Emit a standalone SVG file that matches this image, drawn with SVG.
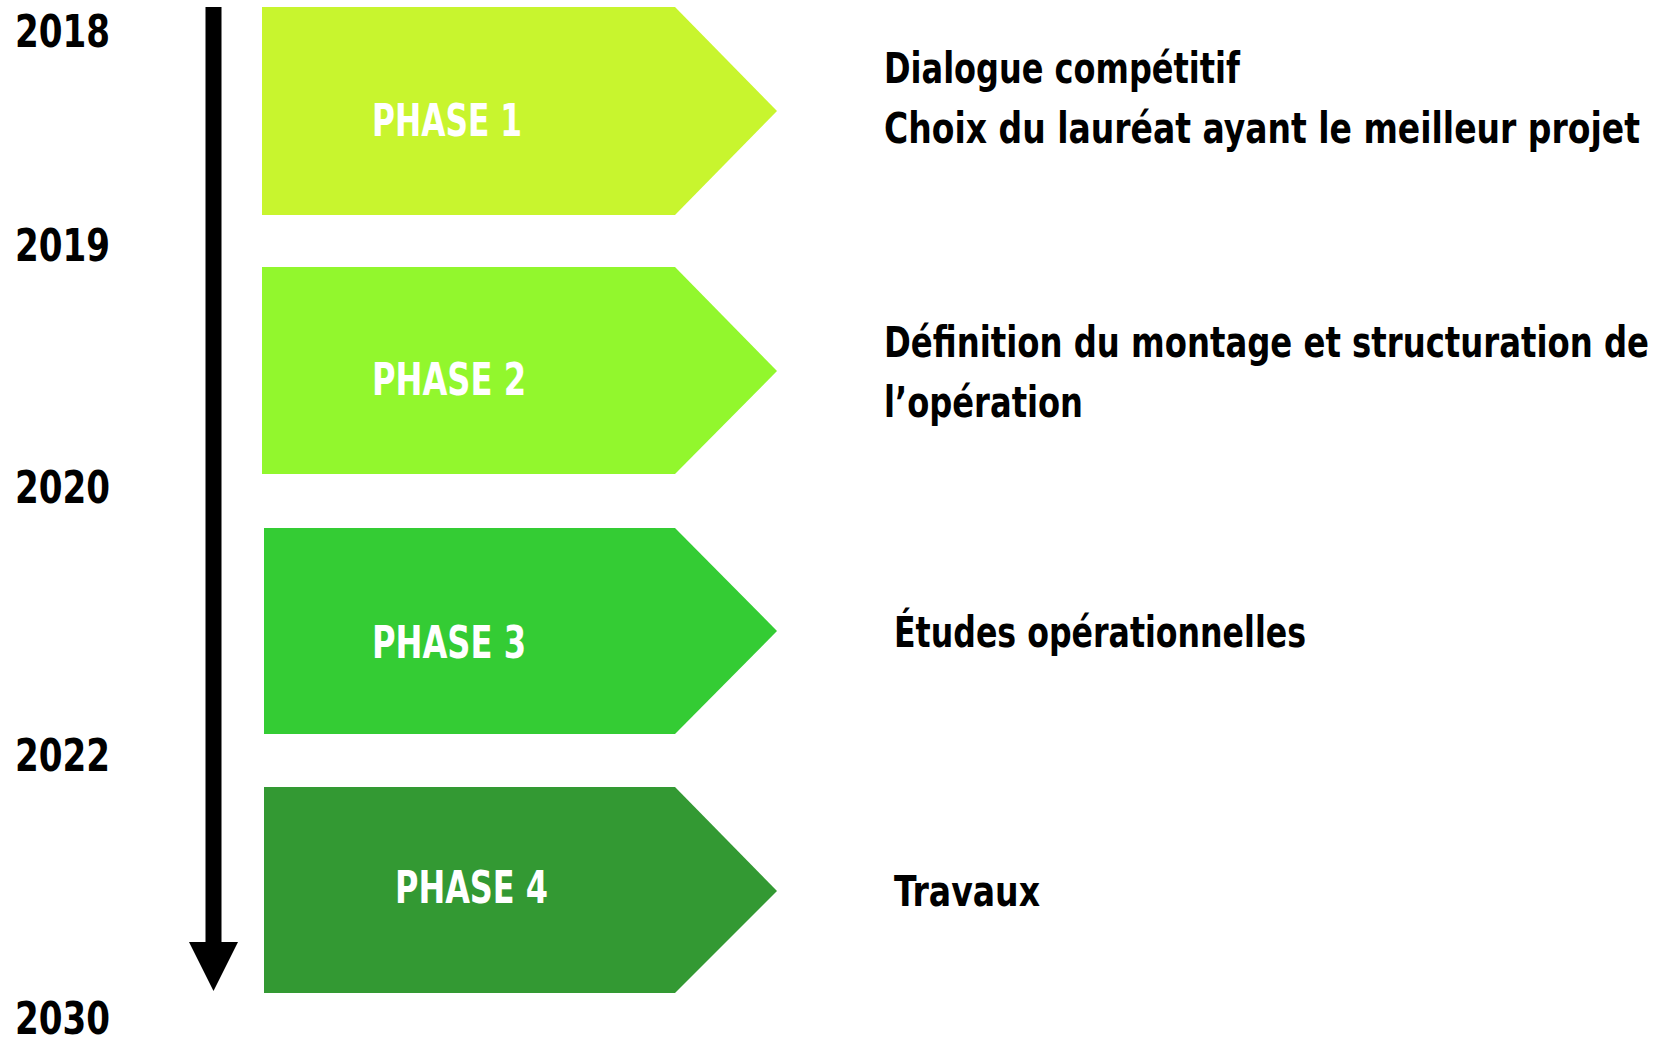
<svg xmlns="http://www.w3.org/2000/svg" width="1666" height="1045" viewBox="0 0 1666 1045">
<style>
  text { font-family: "Liberation Sans Narrow", "DejaVu Sans Condensed", "Liberation Sans", sans-serif; font-weight: bold; }
  .year { font-size: 44px; fill: #000; }
  .phase { font-size: 45px; fill: #fff; }
  .desc { font-size: 43px; fill: #000; }
  .axis { stroke: #000; stroke-width: 16; fill: none; }
</style>
<defs>
  <marker id="ah" markerUnits="userSpaceOnUse" markerWidth="50" markerHeight="50" viewBox="0 -25 50 50" refX="0" refY="0" orient="auto">
    <path d="M0,-24.5 L49,0 L0,24.5 Z" fill="#000"/>
  </marker>
</defs>
<rect width="1666" height="1045" fill="#fff"/>
<g id="years">
  <text class="year" x="15" y="47" textLength="95" lengthAdjust="spacingAndGlyphs">2018</text>
  <text class="year" x="15" y="261" textLength="95" lengthAdjust="spacingAndGlyphs">2019</text>
  <text class="year" x="15" y="503" textLength="95" lengthAdjust="spacingAndGlyphs">2020</text>
  <text class="year" x="15" y="771" textLength="95" lengthAdjust="spacingAndGlyphs">2022</text>
  <text class="year" x="15" y="1034" textLength="95" lengthAdjust="spacingAndGlyphs">2030</text>
</g>
<g id="connectors">
  <path class="axis" d="M213.5,7 L213.5,942" marker-end="url(#ah)"/>
</g>
<g id="phase1">
  <polygon points="262,7 675,7 777,111 675,215 262,215" fill="#C8F52E"/>
  <text class="phase" x="372" y="136" textLength="150" lengthAdjust="spacingAndGlyphs">PHASE 1</text>
</g>
<g id="phase2">
  <polygon points="262,267 675,267 777,371 675,474 262,474" fill="#92F72D"/>
  <text class="phase" x="372" y="395" textLength="154" lengthAdjust="spacingAndGlyphs">PHASE 2</text>
</g>
<g id="phase3">
  <polygon points="264,528 675,528 777,631 675,734 264,734" fill="#34CC34"/>
  <text class="phase" x="372" y="658" textLength="154" lengthAdjust="spacingAndGlyphs">PHASE 3</text>
</g>
<g id="phase4">
  <polygon points="264,787 675,787 777,891 675,993 264,993" fill="#339933"/>
  <text class="phase" x="395" y="903" textLength="153" lengthAdjust="spacingAndGlyphs">PHASE 4</text>
</g>
<g id="desc1">
  <text class="desc" x="884" y="83" textLength="356" lengthAdjust="spacingAndGlyphs">Dialogue compétitif</text>
  <text class="desc" transform="translate(884,143) scale(0.75,1)" x="0" y="0" textLength="1008" lengthAdjust="spacingAndGlyphs">Choix du lauréat ayant le meilleur projet</text>
</g>
<g id="desc2">
  <text class="desc" transform="translate(884,357) scale(0.75,1)" x="0" y="0" textLength="1020" lengthAdjust="spacingAndGlyphs">Définition du montage et structuration de</text>
  <text class="desc" x="884" y="417" textLength="199" lengthAdjust="spacingAndGlyphs">l’opération</text>
</g>
<g id="desc3">
  <text class="desc" x="894" y="647" textLength="412" lengthAdjust="spacingAndGlyphs">Études opérationnelles</text>
</g>
<g id="desc4">
  <text class="desc" x="894" y="906" textLength="146" lengthAdjust="spacingAndGlyphs">Travaux</text>
</g>
</svg>
